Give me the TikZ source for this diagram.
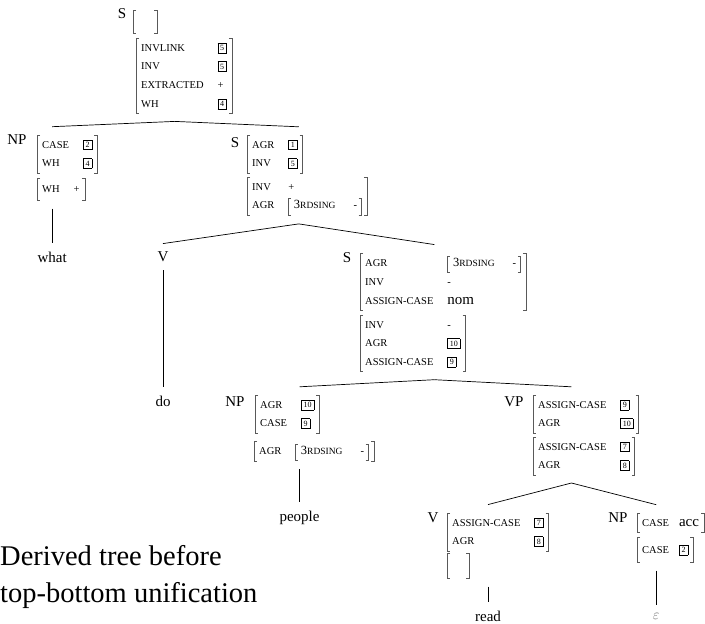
\documentclass[tikz,border=0pt]{standalone}
\usepackage{fontspec}
\setmainfont{Liberation Serif}
\usetikzlibrary{fit}
\definecolor{brcol}{gray}{0.35}
\definecolor{epscol}{gray}{0.45}
\newcommand\mainf{\fontsize{15}{18}\selectfont}
\newcommand\featf{\fontsize{10.5}{18.7}\selectfont}
\newcommand\valf{\fontsize{15}{18.7}\selectfont}
\newcommand\capf{\fontsize{28.5}{37}\selectfont}
\newcommand\bxn[1]{\raisebox{0.8pt}{\setlength\fboxsep{2pt}\setlength\fboxrule{0.5pt}\fbox{\fontsize{8}{8}\selectfont #1}}}
\newcommand\brL{{\color{brcol}\rlap{\rule[-6.5pt]{3pt}{0.6pt}}\rlap{\rule[9.9pt]{3pt}{0.6pt}}\rule[-6.5pt]{0.6pt}{17pt}}}
\newcommand\brR{{\color{brcol}\rule[-6.5pt]{0.6pt}{17pt}\llap{\rule[-6.5pt]{3pt}{0.6pt}}\llap{\rule[9.9pt]{3pt}{0.6pt}}}}
\newcommand\thrd{{\fontsize{12.5}{12}\selectfont 3}{\fontsize{9.5}{12}\selectfont RDSING}}
\newcommand\nestbr{\brL\hspace{5pt}\thrd\hspace{18pt}-\hspace{4pt}\brR}
\newcommand\avtab[2][14pt]{\begin{tabular}{@{}l@{\hspace{#1}}l@{}}#2\end{tabular}}
\newcommand\avmbr[1]{%
  \draw[brk] ([xshift=3pt]#1.north west) -| (#1.south west) -- ++(3pt,0);
  \draw[brk] ([xshift=-3pt]#1.north east) -| (#1.south east) -- ++(-3pt,0);}
\begin{document}
\begin{tikzpicture}[x=1pt,y=-1pt,
  avm/.style={anchor=north west, inner xsep=5pt, inner ysep=0pt, font=\featf},
  lbl/.style={inner sep=0pt, font=\mainf},
  leaf/.style={anchor=base, inner ysep=8pt, inner xsep=0pt, font=\mainf},
  grp/.style={fit=#1, inner sep=8pt},
  brk/.style={draw=brcol, line width=0.6pt},
  treeline/.style={draw=black, line width=0.7pt}]
\useasboundingbox (0,0) rectangle (705,624);
\coordinate (yw) at (0,262);
\coordinate (yd) at (0,406);
\coordinate (yp) at (0,521);
\coordinate (yr) at (0,621);
\coordinate (ye) at (0,619);

% root S
\node[lbl] (rS) at (122,14) {S};
\node[avm, minimum width=24pt, minimum height=23pt] (r0) at (133,10) {};
\node[avm] (r1) at (136,38) {\avtab{INVLINK & \bxn{5}\\ INV & \bxn{5}\\ EXTRACTED & +\\ WH & \bxn{4}}};
\node[grp={(rS)(r0)(r1)}] (root) {};

% NP (what)
\node[lbl] (aL) at (17,140) {NP};
\node[avm] (a1) at (37,135) {\avtab{CASE & \bxn{2}\\ WH & \bxn{4}}};
\node[avm, minimum height=22pt] (a2) at (37,178) {\avtab{WH & +}};
\node[grp={(aL)(a1)(a2)}] (NPa) {};
\node[leaf] (what) at (NPa.south |- yw) {what};

% S (middle)
\node[lbl] (bL) at (235,143) {S};
\node[avm] (b1) at (247,135) {\avtab{AGR & \bxn{1}\\ INV & \bxn{5}}};
\node[avm] (b2) at (247,177) {\avtab{INV & +\\ AGR & \nestbr}};
\node[grp={(bL)(b1)(b2)}] (Sb) {};

% V (do)
\node[lbl] (cL) at (163,257) {V};
\node[grp={(cL)}] (Vc) {};
\node[leaf] (do) at (Vc.south |- yd) {do};

% S (lower)
\node[lbl] (dL) at (347,258) {S};
\node[avm] (d1) at (360,253) {\avtab{AGR & \nestbr\\ INV & -\\ ASSIGN-CASE & {\valf nom}}};
\node[avm] (d2) at (360,315) {\avtab{INV & -\\ AGR & \bxn{10}\\ ASSIGN-CASE & \bxn{9}}};
\node[grp={(dL)(d1)(d2)}] (Sd) {};

% NP (people)
\node[lbl] (eL) at (235,402) {NP};
\node[avm] (e1) at (255,395) {\avtab{AGR & \bxn{10}\\ CASE & \bxn{9}}};
\node[avm] (e2) at (254,441) {\avtab{AGR & \nestbr}};
\node[grp={(eL)(e1)(e2)}] (NPe) {};
\node[leaf] (people) at (NPe.south |- yp) {people};

% VP
\node[lbl] (fL) at (514,402) {VP};
\node[avm] (f1) at (533,395) {\avtab{ASSIGN-CASE & \bxn{9}\\ AGR & \bxn{10}}};
\node[avm] (f2) at (533,437) {\avtab{ASSIGN-CASE & \bxn{7}\\ AGR & \bxn{8}}};
\node[grp={(fL)(f1)(f2)}] (VPf) {};

% V (read)
\node[lbl] (gL) at (433,518) {V};
\node[avm] (g1) at (447,513) {\avtab{ASSIGN-CASE & \bxn{7}\\ AGR & \bxn{8}}};
\node[avm, minimum width=22pt, minimum height=25pt] (g2) at (447,553) {};
\node[grp={(gL)(g1)(g2)}] (Vg) {};
\node[leaf] (read) at (Vg.south |- yr) {read};

% NP (epsilon)
\node[lbl] (hL) at (618,518) {NP};
\node[avm] (h1) at (637,513) {\avtab[10pt]{CASE & {\valf acc}}};
\node[avm, minimum height=25pt] (h2) at (637,537) {\avtab[10pt]{CASE & \bxn{2}}};
\node[grp={(hL)(h1)(h2)}] (NPh) {};
\node[leaf, text=epscol] (eps) at (NPh.south |- ye) {$\varepsilon$};

% brackets
\avmbr{r0}\avmbr{r1}\avmbr{a1}\avmbr{a2}\avmbr{b1}\avmbr{b2}
\avmbr{d1}\avmbr{d2}\avmbr{e1}\avmbr{e2}\avmbr{f1}\avmbr{f2}
\avmbr{g1}\avmbr{g2}\avmbr{h1}\avmbr{h2}

% tree lines
\draw[treeline] (root.south) -- (NPa.north);
\draw[treeline] (root.south) -- (Sb.north);
\draw[treeline] (Sb.south) -- (Vc.north);
\draw[treeline] (Sb.south) -- (Sd.north);
\draw[treeline] (Sd.south) -- (NPe.north);
\draw[treeline] (Sd.south) -- (VPf.north);
\draw[treeline] (VPf.south) -- (Vg.north);
\draw[treeline] (VPf.south) -- (NPh.north);
\draw[treeline] (NPa.south) -- (what.north);
\draw[treeline] (Vc.south) -- (do.north);
\draw[treeline] (NPe.south) -- (people.north);
\draw[treeline] (Vg.south) -- (read.north);
\draw[treeline] (NPh.south) -- (eps.north);

% caption (base anchor = baseline of last line)
\node[anchor=base west, align=left, inner sep=0pt, font=\capf] (cap) at (0,602) {Derived tree before\\top-bottom unification};
\end{tikzpicture}
\end{document}
